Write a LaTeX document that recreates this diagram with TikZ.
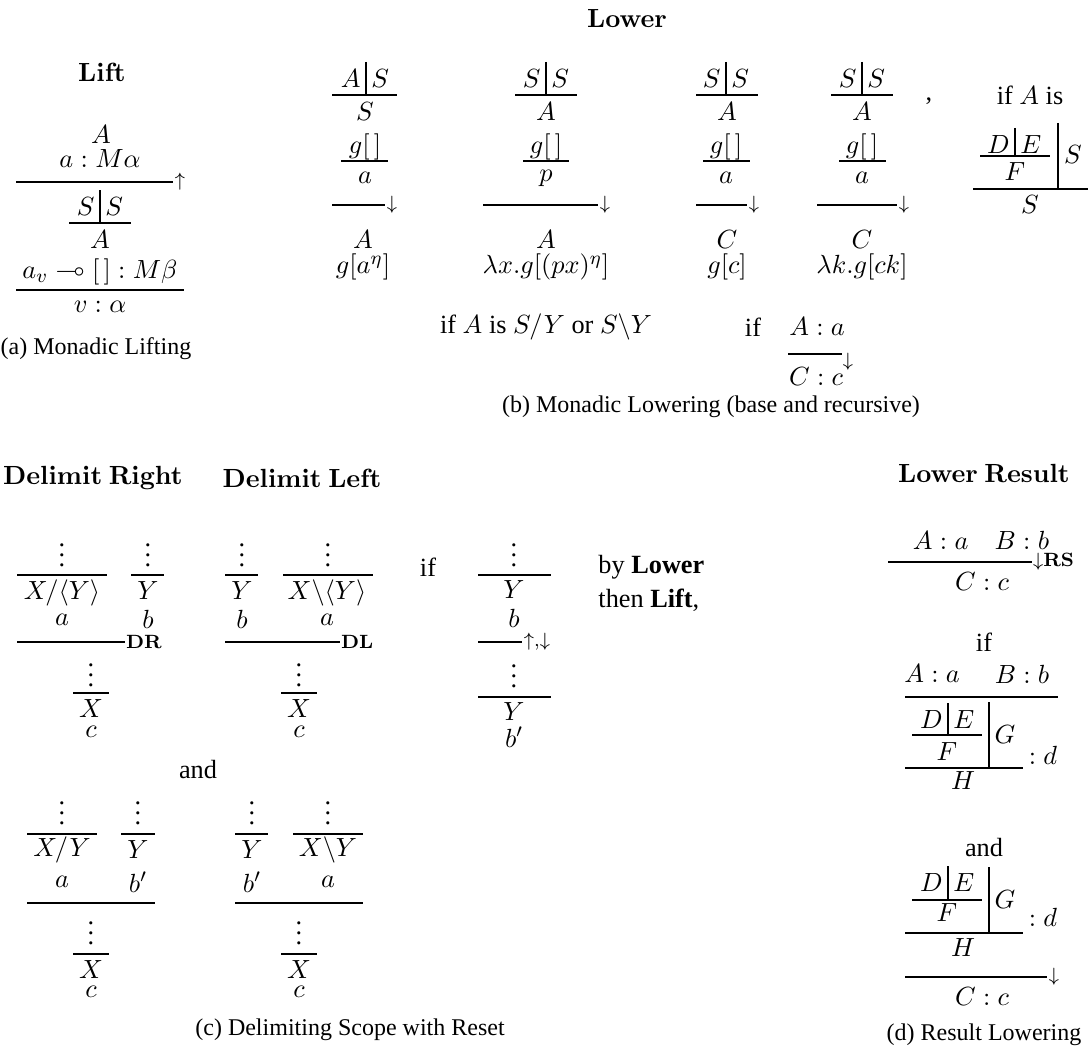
\documentclass[tikz,border=0pt]{standalone}
\usepackage{amssymb}
\usepackage[no-math]{fontspec}
\setmainfont{Liberation Serif}
\newcommand\fs{\fontsize{10.95}{13.6}\selectfont}
\newcommand\cfs{\fontsize{10}{12}\selectfont}
% tower: name, barx, rowy, liney, x1, x2, left, right
\newcommand\twr[8]{%
  \node[t,anchor=east] (#1l) at (#2-5,#3) {$#7$};
  \node[t,anchor=west] (#1r) at (#2+5,#3) {$#8$};
  \draw[rl] (#2,#3-17) coordinate (#1top) -- (#2,#4) coordinate (#1bar);
  \draw[rl] (#5,#4) coordinate (#1a) -- (#6,#4) coordinate (#1b);}
\begin{document}
\begin{tikzpicture}[x=0.41667pt,y=-0.41667pt,
  t/.style={inner sep=0pt,font=\fs},
  captxt/.style={inner sep=0pt,font=\cfs},
  rl/.style={line width=0.45pt},
  lab/.style={inner sep=0.6pt,anchor=west,font=\fs},
  vd/.style={inner sep=0pt,anchor=base,font=\fs,text height=9.4pt,text depth=0pt}]
\useasboundingbox (0,0) rectangle (1091,1052);
% ---------------- (a) Lift
\node[t] (lift) at (102,72) {$\mathbf{Lift}$};
\node[t] (la1) at (101,135) {$A$};
\node[t] (la2) at (100,159) {$a : M\alpha$};
\draw[rl] (16,182) coordinate (lr1a) -- (173,182) coordinate (lr1b);
\node[lab] (lup) at (lr1b) {$\scriptstyle\uparrow$};
\twr{lt}{100}{207}{223}{69}{131}{S}{S}
\node[t] (la3) at (100,240) {$A$};
\node[t] (la4) at (100,272) {$a_v \multimap [\,] : M\beta$};
\draw[rl] (16,290) coordinate (lr2a) -- (184,290) coordinate (lr2b);
\node[t] (la5) at (100,307) {$v : \alpha$};
\node[captxt] (capa) at (96,349) {(a) Monadic Lifting};
% ---------------- (b) Lower
\node[t] (lower) at (627,18) {$\mathbf{Lower}$};
% col 1
\twr{c1}{366}{79}{95}{332}{397}{A}{S}
\node[t] (c1s) at (365,112) {$S$};
\node[t] (c1g) at (365,147) {$g[\,]$};
\draw[rl] (341,161) coordinate (c1ga) -- (388,161) coordinate (c1gb);
\node[t] (c1v) at (365,178) {$a$};
\draw[rl] (332,205) coordinate (c1da) -- (385,205) coordinate (c1db);
\node[lab] (c1arr) at (c1db) {$\scriptstyle\downarrow$};
\node[t] (c1r1) at (363,240) {$A$};
\node[t] (c1r2) at (363,267) {$g[a^\eta]$};
% col 2
\twr{c2}{546}{79}{95}{515}{577}{S}{S}
\node[t] (c2s) at (546,112) {$A$};
\node[t] (c2g) at (546,147) {$g[\,]$};
\draw[rl] (523,161) coordinate (c2ga) -- (569,161) coordinate (c2gb);
\node[t] (c2v) at (546,178) {$p$};
\draw[rl] (483,205) coordinate (c2da) -- (598,205) coordinate (c2db);
\node[lab] (c2arr) at (c2db) {$\scriptstyle\downarrow$};
\node[t] (c2r1) at (546,240) {$A$};
\node[t] (c2r2) at (546,267) {$\lambda x.g[(px)^\eta]$};
% col 3
\twr{c3}{726}{79}{95}{696}{758}{S}{S}
\node[t] (c3s) at (727,112) {$A$};
\node[t] (c3g) at (726,147) {$g[\,]$};
\draw[rl] (703,161) coordinate (c3ga) -- (750,161) coordinate (c3gb);
\node[t] (c3v) at (726,178) {$a$};
\draw[rl] (696,205) coordinate (c3da) -- (747,205) coordinate (c3db);
\node[lab] (c3arr) at (c3db) {$\scriptstyle\downarrow$};
\node[t] (c3r1) at (727,240) {$C$};
\node[t] (c3r2) at (727,267) {$g[c]$};
% col 4
\twr{c4}{862}{79}{95}{831}{893}{S}{S}
\node[t] (c4s) at (862,112) {$A$};
\node[t] (c4g) at (862,147) {$g[\,]$};
\draw[rl] (839,161) coordinate (c4ga) -- (886,161) coordinate (c4gb);
\node[t] (c4v) at (862,178) {$a$};
\draw[rl] (817,205) coordinate (c4da) -- (897,205) coordinate (c4db);
\node[lab] (c4arr) at (c4db) {$\scriptstyle\downarrow$};
\node[t] (c4r1) at (862,240) {$C$};
\node[t] (c4r2) at (862,267) {$\lambda k.g[ck]$};
\node[t] (comma) at (929,101) {,};
\node[t] (ifA) at (1030,95) {if $A$ is};
\twr{nd}{1015}{145}{156}{980}{1050}{D}{E}
\node[t] (ndf) at (1015,172) {$F$};
\draw[rl] (1058,123) coordinate (ndbt) -- (1058,189) coordinate (ndbb);
\node[t] (nds) at (1073,155) {$S$};
\draw[rl] (973,189) coordinate (ndla) -- (1088,189) coordinate (ndlb);
\node[t] (nds2) at (1030,205) {$S$};
\node[t] (ifsy) at (546,327) {if $A$ is $S/Y$ or $S\backslash Y$};
\node[t] (if2) at (753,327) {if};
\node[t] (aa) at (817,327) {$A : a$};
\draw[rl] (788,354) coordinate (aala) -- (842,354) coordinate (aalb);
\node[lab,anchor=north west] (aarr) at (841,351) {$\scriptstyle\downarrow$};
\node[t] (cc) at (816,377) {$C : c$};
\node[captxt] (capb) at (711,407) {(b) Monadic Lowering (base and recursive)};
% ---------------- (c) Delimit
\node[t] (dr) at (93,478) {$\mathbf{Delimit\ Right}$};
\node[t] (dl) at (302,478) {$\mathbf{Delimit\ Left}$};
% DR
\node[vd] (drv1) at (62,566) {$\vdots$};
\draw[rl] (17,575) -- (107,575);
\node[t] (drx) at (62,593) {$X/\langle Y\rangle$};
\node[t] (dra) at (62,620) {$a$};
\node[vd] (drv2) at (148,566) {$\vdots$};
\draw[rl] (131,575) -- (164,575);
\node[t] (dry) at (148,591) {$Y$};
\node[t] (drb) at (148,619) {$b$};
\draw[rl] (17,642) coordinate (drma) -- (125,642) coordinate (drmb);
\node[lab,inner sep=0.3pt] (drl) at (drmb) {$\scriptstyle\mathbf{DR}$};
\node[vd] (drv3) at (91,686) {$\vdots$};
\draw[rl] (73,693) -- (109,693);
\node[t] (drX) at (91,709) {$X$};
\node[t] (drc) at (91,732) {$c$};
% DL
\node[vd] (dlv1) at (242,566) {$\vdots$};
\draw[rl] (225,575) -- (258,575);
\node[t] (dly) at (242,591) {$Y$};
\node[t] (dlb) at (242,619) {$b$};
\node[vd] (dlv2) at (328,566) {$\vdots$};
\draw[rl] (283,575) -- (373,575);
\node[t] (dlx) at (327,593) {$X\backslash\langle Y\rangle$};
\node[t] (dla) at (327,620) {$a$};
\draw[rl] (225,642) coordinate (dlma) -- (340,642) coordinate (dlmb);
\node[lab,inner sep=0.3pt] (dll) at (dlmb) {$\scriptstyle\mathbf{DL}$};
\node[vd] (dlv3) at (299,686) {$\vdots$};
\draw[rl] (281,693) -- (317,693);
\node[t] (dlX) at (299,709) {$X$};
\node[t] (dlc) at (299,732) {$c$};
% if tree
\node[t] (if3) at (428,567) {if};
\node[vd] (iv1) at (514,566) {$\vdots$};
\draw[rl] (478,575) -- (551,575);
\node[t] (iy) at (514,590) {$Y$};
\node[t] (ib) at (514,618) {$b$};
\draw[rl] (478,642) coordinate (ima) -- (522,642) coordinate (imb);
\node[lab] (iarr) at (imb) {$\scriptstyle\uparrow,\downarrow$};
\node[vd] (iv2) at (514,687) {$\vdots$};
\draw[rl] (478,697) -- (551,697);
\node[t] (iy2) at (514,712) {$Y$};
\node[t] (ib2) at (514,737) {$b'$};
\node[t,anchor=west] (by) at (598,567) {by \textbf{Lower}};
\node[t,anchor=west] (then) at (598,600) {then \textbf{Lift},};
\node[t] (and1) at (198,770) {and};
% bottom-left
\node[vd] (blv1) at (62,824) {$\vdots$};
\draw[rl] (27,834) -- (97,834);
\node[t] (blx) at (62,850) {$X/Y$};
\node[t] (bla) at (62,882) {$a$};
\node[vd] (blv2) at (138,824) {$\vdots$};
\draw[rl] (121,834) -- (155,834);
\node[t] (bly) at (138,850) {$Y$};
\node[t] (blb) at (138,882) {$b'$};
\draw[rl] (27,903) -- (155,903);
\node[vd] (blv3) at (91,944) {$\vdots$};
\draw[rl] (73,954) -- (109,954);
\node[t] (blX) at (91,970) {$X$};
\node[t] (blc) at (91,992) {$c$};
% bottom-right
\node[vd] (brv1) at (252,824) {$\vdots$};
\draw[rl] (235,834) -- (268,834);
\node[t] (bry) at (252,850) {$Y$};
\node[t] (brb) at (252,882) {$b'$};
\node[vd] (brv2) at (328,824) {$\vdots$};
\draw[rl] (293,834) -- (363,834);
\node[t] (brx) at (328,850) {$X\backslash Y$};
\node[t] (bra) at (328,882) {$a$};
\draw[rl] (235,903) -- (363,903);
\node[vd] (brv3) at (299,944) {$\vdots$};
\draw[rl] (281,954) -- (317,954);
\node[t] (brX) at (299,970) {$X$};
\node[t] (brc) at (299,992) {$c$};
\node[captxt] (capc) at (350,1030) {(c) Delimiting Scope with Reset};
% ---------------- (d) Lower Result
\node[t] (lr) at (984,473) {$\mathbf{Lower\ Result}$};
\node[t] (d1) at (981,540) {$A : a \quad B : b$};
\draw[rl] (888,562) coordinate (d1a) -- (1032,562) coordinate (d1b);
\node[lab,inner sep=0.3pt] (drs) at (d1b) {$\scriptstyle\downarrow\mathbf{RS}$};
\node[t] (d1c) at (982,582) {$C : c$};
\node[t] (if4) at (984,642) {if};
\node[t] (d2a) at (932,674) {$A : a$};
\node[t] (d2b) at (1022,674) {$B : b$};
\draw[rl] (905,697) -- (1058,697);
\twr{ea}{948}{720}{735}{912}{982}{D}{E}
\node[t] (eaf) at (947,752) {$F$};
\draw[rl] (989,702) -- (989,768);
\node[t] (eag) at (1005,735) {$G$};
\node[t] (ead) at (1043,755) {$: d$};
\draw[rl] (905,768) -- (1023,768);
\node[t] (eah) at (963,781) {$H$};
\node[t] (and2) at (984,848) {and};
\twr{eb}{948}{883}{900}{912}{982}{D}{E}
\node[t] (ebf) at (947,913) {$F$};
\draw[rl] (989,867) -- (989,933);
\node[t] (ebg) at (1005,900) {$G$};
\node[t] (ebd) at (1043,917) {$: d$};
\draw[rl] (905,933) -- (1023,933);
\node[t] (ebh) at (963,948) {$H$};
\draw[rl] (905,977) coordinate (eba) -- (1047,977) coordinate (ebb);
\node[lab] (ebarr) at (ebb) {$\scriptstyle\downarrow$};
\node[t] (ebc) at (982,997) {$C : c$};
\node[captxt] (capd) at (984,1035) {(d) Result Lowering};
\end{tikzpicture}
\end{document}
